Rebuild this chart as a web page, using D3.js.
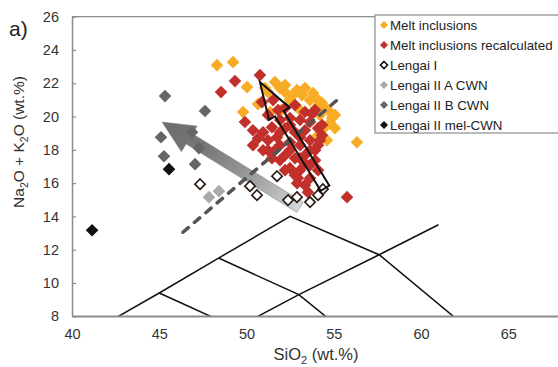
<!DOCTYPE html>
<html>
<head>
<meta charset="utf-8">
<script src="https://cdn.jsdelivr.net/npm/d3@7/dist/d3.min.js"></script>
<style>
  html, body { margin: 0; padding: 0; background: #fff; }
  svg { display: block; font-family: "Liberation Sans", Arial, sans-serif; }
</style>
</head>
<body>
<svg id="chart" width="558" height="367"></svg>
<script>
// ---- data (SiO2 wt.%, Na2O+K2O wt.%) ----
const meltInclusions = [
  [48.31,23.09],[49.23,23.27],[50.03,21.77],[49.80,20.27],[51.63,22.07],[50.66,20.75],
  [52.21,21.47],[52.66,21.29],[53.18,21.29],[53.81,21.41],[54.33,20.81],[54.90,19.91],
  [54.50,19.36],[54.10,18.88],[56.33,18.46],[51.98,20.39],[52.49,20.99],[53.64,20.99],
  [54.21,20.09],[54.67,20.39],[53.35,21.71],[52.89,21.59],[51.35,20.27],[53.98,20.51],
  [55.07,19.30],[54.61,18.58],[53.07,20.39],[51.23,21.47],[51.92,21.71],[51.06,21.71],
  [52.21,21.89],[54.10,20.99],[54.79,19.61],[55.07,20.09],[54.38,20.51]
];
const meltRecalculated = [
  [50.77,22.49],[49.34,22.13],[48.54,21.47],[50.89,20.87],[51.52,20.99],[49.91,19.67],
  [50.37,19.18],[50.37,18.28],[50.95,19.06],[51.46,19.36],[51.75,18.76],[53.35,15.88],
  [53.52,15.46],[55.76,15.16],[52.21,20.51],[52.78,20.69],[53.35,20.27],[53.93,20.39],
  [52.49,19.91],[53.07,19.79],[53.64,19.67],[51.92,19.79],[51.23,20.09],[52.21,19.30],
  [52.78,19.06],[53.35,19.18],[54.10,19.30],[51.92,18.28],[52.49,18.46],[53.07,18.28],
  [53.64,18.58],[52.21,17.68],[52.78,17.50],[53.35,17.68],[53.93,17.98],[52.49,16.90],
  [53.07,16.78],[53.64,17.08],[52.95,16.30],[51.63,17.98],[51.23,18.58],[54.21,18.58],
  [53.93,17.38],[54.33,19.49],[51.46,17.50],[52.90,16.00],[51.81,20.39],[51.23,17.98],
  [51.92,17.38],[52.49,17.98],[53.07,17.50],[53.64,17.98],[53.35,17.20],[54.10,18.28],
  [52.21,16.78],[52.78,16.48],[53.64,16.30],[54.10,16.78],[50.66,18.70],[50.95,17.98],
  [51.92,19.06],[52.49,19.49],[53.07,18.76],[53.76,20.15],[54.33,18.88]
];
const lengaiI = [
  [47.34,15.94],[51.75,16.42],[50.20,15.82],[50.60,15.28],[52.38,14.98],[52.89,15.16],
  [53.64,14.86],[54.10,15.28],[54.38,15.64]
];
const lengaiIIA = [[47.85,15.16],[48.42,15.52]];
const lengaiIIB = [
  [45.33,21.23],[47.62,20.33],[45.10,18.76],[46.88,19.06],[47.28,18.10],[45.27,17.62],[47.05,17.14]
];
const lengaiIIMel = [[45.56,16.84],[41.15,13.17]];

// TAS field boundaries
const tasLines = [
  [[41,7],[45,9.4],[48.4,11.5],[52.5,14],[57.6,11.7],[63,7]],
  [[45,9.4],[49.4,7.3]],
  [[48.4,11.5],[53,9.3],[57,5.9]],
  [[49.4,7.3],[53,9.3],[57.6,11.7],[61,13.5]]
];

// trend guides
const dashedTrend = [[46.36,13.05],[55.19,20.99]];
const grayArrow = { tail: [53.07,14.55], tip: [45.16,19.67] };
const outlineArrow = { tail: [54.50,15.70], tip: [50.77,22.07] };

const xTicks = [40,45,50,55,60,65];
const yTicks = [8,10,12,14,16,18,20,22,24,26];

const legendItems = [
  { label: "Melt inclusions", fill: "#F8AC26", stroke: "none" },
  { label: "Melt inclusions recalculated", fill: "#C2302B", stroke: "none" },
  { label: "Lengai I", fill: "#fff", stroke: "#111" },
  { label: "Lengai II A CWN", fill: "#aaaaaa", stroke: "none" },
  { label: "Lengai II B CWN", fill: "#666666", stroke: "none" },
  { label: "Lengai II mel-CWN", fill: "#111111", stroke: "none" }
];

// ---- layout ----
const svg = d3.select("#chart");
const x = d3.scaleLinear().domain([40, 70]).range([72, 595.5]);
const y = d3.scaleLinear().domain([8, 26]).range([316.3, 16.7]);
const axisColor = "#8c8c8c";

const defs = svg.append("defs");
defs.append("clipPath").attr("id", "plotClip")
  .append("rect").attr("x", x(40)).attr("y", y(26)).attr("width", 600).attr("height", y(8) - y(26));

const plot = svg.append("g").attr("clip-path", "url(#plotClip)");

// TAS boundaries
const line = d3.line().x(d => x(d[0])).y(d => y(d[1]));
plot.selectAll("path.tas").data(tasLines).join("path")
  .attr("class", "tas").attr("d", line)
  .attr("fill", "none").attr("stroke", "#111").attr("stroke-width", 1.5);

// arrow polygon built in screen space from two data points
function arrowPoints(a, headLen, headHalf, shaftHalf) {
  const t0 = [x(a.tail[0]), y(a.tail[1])];
  const t1 = [x(a.tip[0]), y(a.tip[1])];
  const dx = t1[0] - t0[0], dy = t1[1] - t0[1];
  const L = Math.hypot(dx, dy);
  const ux = dx / L, uy = dy / L, nx = -uy, ny = ux;
  const bx = t1[0] - ux * headLen, by = t1[1] - uy * headLen;
  return [
    [t0[0] + nx * shaftHalf, t0[1] + ny * shaftHalf],
    [bx + nx * shaftHalf, by + ny * shaftHalf],
    [bx + nx * headHalf, by + ny * headHalf],
    t1,
    [bx - nx * headHalf, by - ny * headHalf],
    [bx - nx * shaftHalf, by - ny * shaftHalf],
    [t0[0] - nx * shaftHalf, t0[1] - ny * shaftHalf]
  ];
}

// gray gradient arrow
const grad = defs.append("linearGradient").attr("id", "grayGrad")
  .attr("gradientUnits", "userSpaceOnUse")
  .attr("x1", x(grayArrow.tail[0])).attr("y1", y(grayArrow.tail[1]))
  .attr("x2", x(grayArrow.tip[0])).attr("y2", y(grayArrow.tip[1]));
grad.append("stop").attr("offset", "0%").attr("stop-color", "#d4d8da");
grad.append("stop").attr("offset", "35%").attr("stop-color", "#9a9c9e");
grad.append("stop").attr("offset", "70%").attr("stop-color", "#777");
grad.append("stop").attr("offset", "100%").attr("stop-color", "#6c6c6c");
plot.append("polygon")
  .attr("points", arrowPoints(grayArrow, 32, 15, 6).map(p => p.join(",")).join(" "))
  .attr("fill", "url(#grayGrad)").attr("stroke", "#8a8a8a").attr("stroke-width", 0.6);

// diamonds
function diamondPath(r) {
  return `M0,${-r}L${r},0L0,${r}L${-r},0Z`;
}
function drawSeries(data, fill, stroke, r) {
  plot.append("g").selectAll("path").data(data).join("path")
    .attr("d", diamondPath(r))
    .attr("transform", d => `translate(${x(d[0])},${y(d[1])})`)
    .attr("fill", fill)
    .attr("stroke", stroke)
    .attr("stroke-width", stroke === "none" ? 0 : 1.6);
}
drawSeries(meltInclusions, "#F8AC26", "none", 6.3);
drawSeries(meltRecalculated, "#C2302B", "none", 6.3);
drawSeries(lengaiIIA, "#aaaaaa", "none", 6.3);
drawSeries(lengaiIIB, "#666666", "none", 6.3);
drawSeries(lengaiIIMel, "#111111", "none", 6.3);
drawSeries(lengaiI, "#ffffff", "#2a1a14", 5.2);

// dashed trend line
plot.append("path").attr("d", line(dashedTrend))
  .attr("fill", "none").attr("stroke", "#555").attr("stroke-width", 3.5)
  .attr("stroke-dasharray", "7,8").attr("stroke-linecap", "round");

// outlined arrow
plot.append("polygon")
  .attr("points", arrowPoints(outlineArrow, 37, 12, 5).map(p => p.join(",")).join(" "))
  .attr("fill", "none").attr("stroke", "#111").attr("stroke-width", 2)
  .attr("stroke-linejoin", "miter");

// ---- axes ----
const yAxis = svg.append("g").attr("transform", `translate(${x(40)},0)`)
  .call(d3.axisLeft(y).tickValues(yTicks).tickSize(-4).tickPadding(13).tickSizeOuter(0));
const xAxis = svg.append("g").attr("transform", `translate(0,${y(8)})`)
  .call(d3.axisBottom(x).tickValues(xTicks).tickSize(0).tickPadding(12).tickSizeOuter(0));
[xAxis, yAxis].forEach(g => {
  g.select(".domain").attr("stroke", axisColor).attr("stroke-width", 1.5);
  g.selectAll(".tick line").attr("stroke", axisColor).attr("stroke-width", 1.2);
  g.selectAll(".tick text").attr("fill", "#333").attr("font-size", 14.5)
    .attr("font-family", "Liberation Sans, Arial, sans-serif");
});
// extend x axis line to the right edge and draw the top frame line
svg.append("line").attr("x1", x(40)).attr("x2", 558).attr("y1", y(8)).attr("y2", y(8))
  .attr("stroke", axisColor).attr("stroke-width", 1.5);
svg.append("line").attr("x1", x(40)).attr("x2", 558).attr("y1", y(26)).attr("y2", y(26))
  .attr("stroke", axisColor).attr("stroke-width", 1.2);

// axis titles
const xt = svg.append("text").attr("x", 316).attr("y", 360).attr("text-anchor", "middle")
  .attr("font-size", 16.5).attr("fill", "#333");
xt.append("tspan").text("SiO");
xt.append("tspan").attr("font-size", 11).attr("dy", 4).text("2");
xt.append("tspan").attr("dy", -4).text(" (wt.%)");

const yt = svg.append("text").attr("transform", "translate(24,142) rotate(-90)")
  .attr("text-anchor", "middle").attr("font-size", 15.5).attr("fill", "#333");
yt.append("tspan").text("Na");
yt.append("tspan").attr("font-size", 10.5).attr("dy", 4).text("2");
yt.append("tspan").attr("dy", -4).text("O + K");
yt.append("tspan").attr("font-size", 10.5).attr("dy", 4).text("2");
yt.append("tspan").attr("dy", -4).text("O (wt.%)");

// panel label
svg.append("text").attr("x", 9).attr("y", 36).attr("font-size", 21).attr("fill", "#222").text("a)");

// ---- legend ----
const lg = svg.append("g");
lg.append("rect").attr("x", 375).attr("y", 15).attr("width", 190).attr("height", 118)
  .attr("fill", "#fff").attr("stroke", "#8c8c8c").attr("stroke-width", 1.2);
legendItems.forEach((it, i) => {
  const cy = 25 + i * 20;
  lg.append("path").attr("d", diamondPath(it.stroke === "none" ? 4 : 3.5))
    .attr("transform", `translate(384,${cy})`)
    .attr("fill", it.fill).attr("stroke", it.stroke).attr("stroke-width", it.stroke === "none" ? 0 : 1.6);
  lg.append("text").attr("x", 390).attr("y", cy + 4.8).attr("font-size", 13.3)
    .attr("fill", "#222").text(it.label);
});
</script>
</body>
</html>
